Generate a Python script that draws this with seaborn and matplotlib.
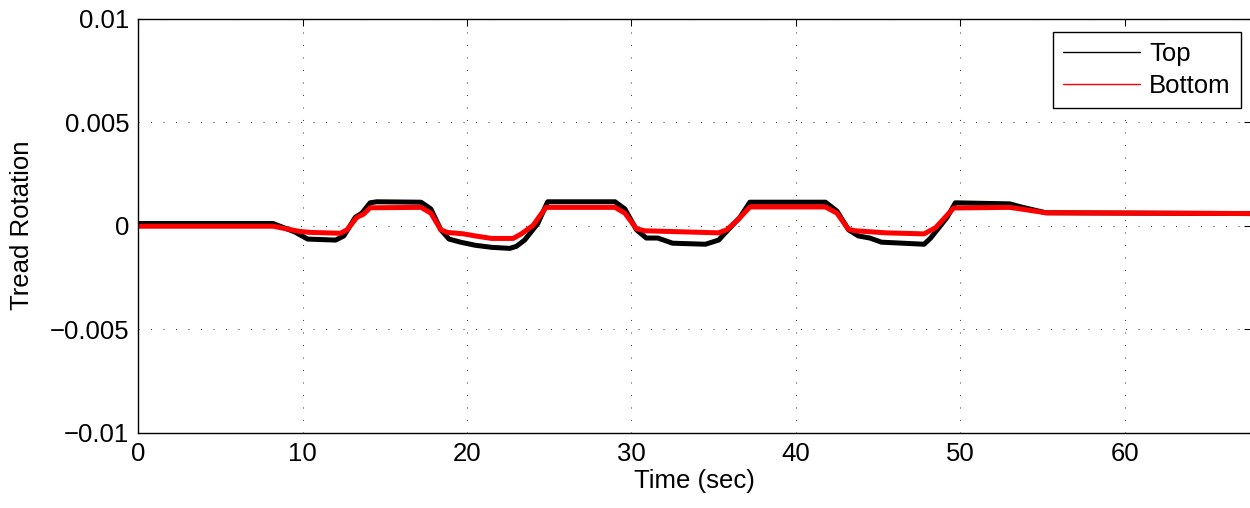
import numpy as np
import pandas as pd
import matplotlib
matplotlib.use('Agg')
from matplotlib import pyplot as plt
from matplotlib.lines import Line2D
import seaborn as sns

# values (time in sec, rotation)
top_time = [0, 8.2, 9.5, 10.3, 12.0, 12.5, 13.2, 13.6, 14.1, 14.5, 17.2, 17.8, 18.4, 18.9,
            19.6, 20.5, 21.5, 22.6, 23.0, 23.5, 24.3, 24.9, 29.0, 29.6, 30.3, 30.9, 31.6,
            32.5, 34.5, 35.3, 36.0, 36.6, 37.2, 41.8, 42.5, 43.2, 43.8, 44.5, 45.2, 47.8,
            48.2, 49.2, 49.7, 53.0, 53.7, 55.2, 68]
top_rot = [0.0001, 0.0001, -0.0003, -0.00065, -0.0007, -0.0005, 0.0004, 0.0006, 0.0011,
           0.00115, 0.00113, 0.0008, -0.0002, -0.00065, -0.0008, -0.00095, -0.00105,
           -0.0011, -0.001, -0.0007, 0.0001, 0.00115, 0.00115, 0.0008, -0.0002, -0.0006,
           -0.0006, -0.00085, -0.0009, -0.0007, -0.0001, 0.0004, 0.00113, 0.00113, 0.0007,
           -0.0002, -0.0005, -0.0006, -0.0008, -0.0009, -0.0006, 0.0004, 0.0011, 0.00105,
           0.0009, 0.00062, 0.00058]

bottom_time = [0, 8.2, 9.8, 10.5, 12.3, 12.7, 13.3, 13.7, 14.1, 17.2, 17.8, 18.4, 18.8,
               19.8, 20.5, 21.5, 22.8, 23.3, 24.0, 24.8, 29.0, 29.6, 30.3, 30.8, 35.3, 35.8,
               36.5, 37.2, 41.8, 42.5, 43.2, 43.6, 45.5, 47.8, 48.5, 49.6, 53.0, 53.7, 55.2, 68]
bottom_rot = [-0.00003, -0.00003, -0.00028, -0.00033, -0.00037, -0.0002, 0.0004, 0.00055,
              0.00086, 0.00088, 0.0006, -0.0002, -0.00033, -0.0004, -0.0005, -0.00062,
              -0.00062, -0.0004, 0.0, 0.00088, 0.00088, 0.0006, -0.00015, -0.00025, -0.00035,
              -0.0002, 0.0003, 0.0009, 0.0009, 0.0006, -0.00018, -0.00025, -0.00035, -0.0004,
              -0.0001, 0.00085, 0.00088, 0.0008, 0.00062, 0.00058]

series_names = ['Top', 'Bottom']
series_colors = ['black', 'red']
x_ticks = [0, 10, 20, 30, 40, 50, 60]
y_ticks = [-0.01, -0.005, 0, 0.005, 0.01]
y_tick_labels = ['\u22120.01', '\u22120.005', '0', '0.005', '0.01']

sns.set_style('white')
plt.rcParams['font.family'] = ['Liberation Sans', 'DejaVu Sans']
plt.rcParams['font.size'] = 18.5
plt.rcParams['text.color'] = 'black'
plt.rcParams['axes.labelcolor'] = 'black'
plt.rcParams['xtick.color'] = 'black'
plt.rcParams['ytick.color'] = 'black'

df = pd.concat([
    pd.DataFrame({'time': top_time, 'rotation': top_rot, 'series': 'Top'}),
    pd.DataFrame({'time': bottom_time, 'rotation': bottom_rot, 'series': 'Bottom'}),
])

fig = plt.figure(figsize=(12.5, 5.08), dpi=100)
ax = fig.add_axes([138.3 / 1250, (508 - 432.7) / 508, 1112.95 / 1250, 414.2 / 508])

sns.lineplot(data=df, x='time', y='rotation', hue='series', hue_order=series_names,
             palette=dict(zip(series_names, series_colors)), estimator=None, sort=False,
             linewidth=3.6, ax=ax, legend=False)
for ln in ax.get_lines():
    ln.set_solid_joinstyle('round')

ax.set_xlim(0, 67.7)
ax.set_ylim(-0.01, 0.01)
ax.set_xticks(x_ticks)
ax.set_yticks(y_ticks)
ax.set_yticklabels(y_tick_labels)
ax.set_xlabel('Time (sec)', labelpad=2)
ax.set_ylabel('Tread Rotation', labelpad=11)

ax.grid(True, linestyle=(0, (1, 11)), color='#444444', linewidth=0.75)
ax.tick_params(direction='in', length=5, width=0.75, top=True, right=True,
               color='black', labelcolor='black', pad=6.5, labelsize=18.5)
for sp in ax.spines.values():
    sp.set_color('black')
    sp.set_linewidth(1.0)

handles = [Line2D([], [], color=c, linewidth=1.0) for c in series_colors]
leg = ax.legend(handles, series_names, loc='upper right', bbox_to_anchor=(0.9908, 0.9674),
                borderaxespad=0, fontsize=18.5, handlelength=3.0, handletextpad=0.35,
                labelspacing=0.3, borderpad=0.4, fancybox=False, framealpha=1)
leg.get_frame().set_edgecolor('black')
leg.get_frame().set_linewidth(1.0)
for t in leg.get_texts():
    t.set_color('black')

fig.savefig('out.png', dpi=100)
